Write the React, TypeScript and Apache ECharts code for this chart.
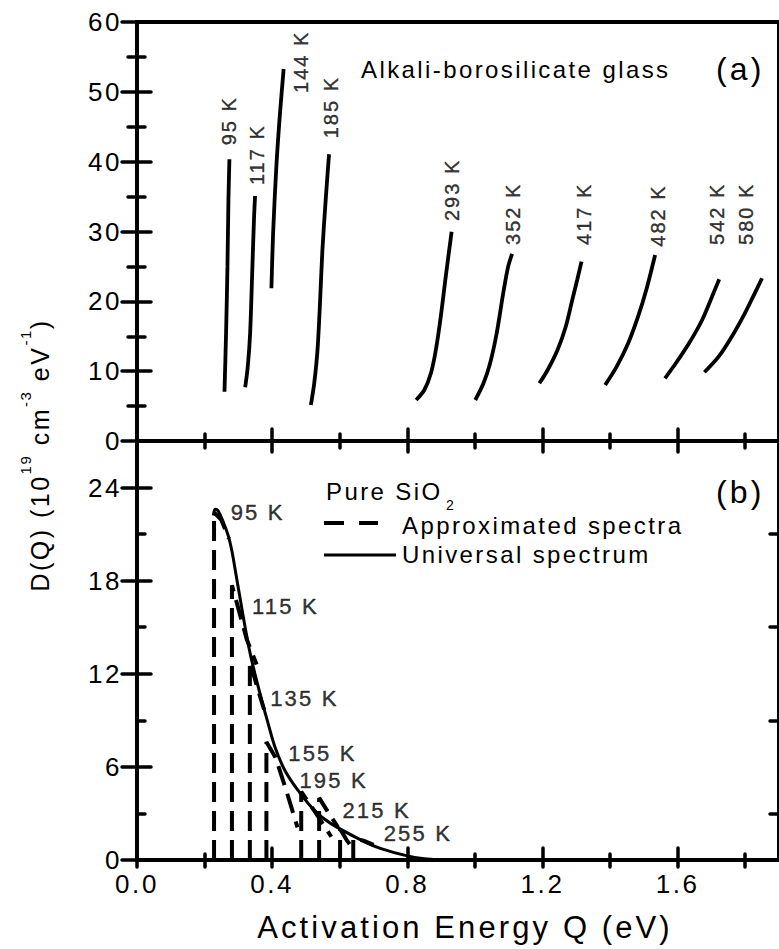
import React, { useEffect, useRef } from "react";
import * as echarts from "echarts";

const FONT = '"Liberation Sans", Arial, Helvetica, sans-serif';
const LS = 0.1; // letter spacing in em (applied through CSS to the SVG texts)

// ---------------- Panel (a): alkali-borosilicate glass ----------------
const glassTemperatures = ["95 K", "117 K", "144 K", "185 K", "293 K", "352 K", "417 K", "482 K", "542 K", "580 K"];
const glass95K = [[0.2589, 7.06], [0.2636, 15.42], [0.2677, 24.97], [0.2706, 34.51], [0.2735, 40.34]];
const glass117K = [[0.3202, 7.69], [0.3278, 10.64], [0.3348, 15.42], [0.3415, 24.96], [0.3465, 32.12], [0.3494, 35.08]];
const glass144K = [[0.3978, 21.87], [0.4028, 29.74], [0.4124, 39.28], [0.4224, 46.44], [0.434, 53.27]];
const glass185K = [[0.5146, 5.16], [0.5245, 8.26], [0.5342, 13.03], [0.542, 20.19], [0.5487, 27.35], [0.5584, 34.51], [0.5683, 41.06]];
const glass293K = [[0.8261, 5.87], [0.8503, 7.3], [0.8698, 9.69], [0.8844, 13.03], [0.899, 17.8], [0.9136, 23.5], [0.9311, 29.98]];
const glass352K = [[1.0012, 5.87], [1.0254, 8.26], [1.045, 11.13], [1.0645, 15.43], [1.0838, 21.15], [1.0984, 24.96], [1.1101, 26.78]];
const glass417K = [[1.1909, 8.26], [1.2153, 10.17], [1.2445, 13.03], [1.2688, 16.37], [1.2881, 20.19], [1.3027, 23.06], [1.3155, 25.68]];
const glass482K = [[1.3856, 8.02], [1.4195, 10.64], [1.4536, 13.99], [1.4828, 17.8], [1.5071, 21.62], [1.5334, 26.64]];
const glass542K = [[1.5625, 8.98], [1.5946, 11.13], [1.6337, 13.99], [1.6725, 17.33], [1.7017, 20.67], [1.723, 23.16]];
const glass580K = [[1.6792, 9.84], [1.7213, 12.07], [1.7601, 14.94], [1.7989, 18.29], [1.8281, 21.15], [1.8497, 23.3]];
const glassCurves = [glass95K, glass117K, glass144K, glass185K, glass293K, glass352K, glass417K, glass482K, glass542K, glass580K];

// ---------------- Panel (b): pure SiO2 ----------------
const universalSpectrum = [
  [0.226, 22.2], [0.231, 22.6], [0.24, 22.5], [0.255, 21.8], [0.27, 20.9], [0.281, 19.9], [0.293, 18.4],
  [0.306, 16.75], [0.32, 15.0], [0.335, 13.3], [0.349, 12.0], [0.369, 10.3], [0.388, 8.8], [0.408, 7.3],
  [0.437, 5.8], [0.476, 4.5], [0.525, 3.2], [0.573, 2.36], [0.671, 1.2], [0.72, 0.75], [0.797, 0.28],
  [0.85, 0.08], [0.9, 0.0],
];
const approxTemperatures = ["95 K", "115 K", "135 K", "155 K", "195 K", "215 K", "235 K", "255 K"];
const approx95K = [[0.228, 0], [0.228, 22.4], [0.25, 21.9], [0.272, 20.7]];
const approx115K = [[0.281, 0], [0.281, 17.7], [0.3, 16.2], [0.325, 14.2], [0.354, 12.6]];
const approx135K = [[0.334, 0], [0.334, 12.8], [0.355, 11.2], [0.376, 9.7]];
const approx155K = [[0.383, 0], [0.383, 7.6], [0.41, 6.6], [0.44, 4.6], [0.475, 2.1]];
const approx195K = [[0.486, 0], [0.486, 4.4], [0.53, 3.0], [0.575, 1.5]];
const approx215K = [[0.539, 0], [0.539, 4.0], [0.565, 3.1], [0.595, 2.1]];
const approx235K = [[0.601, 0], [0.601, 2.0], [0.62, 1.3], [0.64, 0.7]];
const approx255K = [[0.64, 0], [0.64, 1.4], [0.67, 1.25], [0.7, 0.97]];
const approxSpectra = [approx95K, approx115K, approx135K, approx155K, approx195K, approx215K, approx235K, approx255K];
const labelledApprox = ["95 K", "115 K", "135 K", "155 K", "195 K", "215 K", "255 K"];

// ---------------- Axes / tick labels ----------------
const X_MIN = 0;
const X_MAX = 1.9;
const xMajorTicks = [0, 0.4, 0.8, 1.2, 1.6];
const xMinorTicks = [0.2, 0.6, 1.0, 1.4, 1.8];
const yTopMax = 60;
const yTopMajorTicks = [0, 10, 20, 30, 40, 50, 60];
const yTopMinorTicks = [5, 15, 25, 35, 45, 55];
const yBottomMax = 27;
const yBottomMajorTicks = [0, 6, 12, 18, 24];
const yBottomMinorTicks = [3, 9, 15, 21];

// ---------------- Styling (screen pixel offsets of annotations: [right, down]) ----------------
const topLabelOffsets: Record<string, number[]> = {
  "95 K": [-0.7, -14], "117 K": [2.3, -11], "144 K": [17.3, 24], "185 K": [1.6, -16], "293 K": [0.7, -10.6],
  "352 K": [0.7, -9], "417 K": [2.3, -16.7], "482 K": [2.7, -8.3], "542 K": [-2.3, -34.3], "580 K": [-15.7, -33.3],
};
const bottomLabelOffsets: Record<string, number[]> = {
  "95 K": [16.6, 0.6], "115 K": [20, 20.7], "135 K": [20.3, 36.7], "155 K": [21.8, 11],
  "195 K": [-1.8, -11.7], "215 K": [23.3, 12.1], "255 K": [30.4, -5],
};

function textWidth(s: string, size: number): number {
  const ctx = document.createElement("canvas").getContext("2d")!;
  ctx.font = `${size}px ${FONT}`;
  return ctx.measureText(s).width + s.length * size * LS;
}

const TICK_STYLE = { color: "#000", width: 3.5, cap: "round" as const };

function tickAxis(gridIndex: number, position: string, min: number, max: number, values: number[], length: number, extra: any = {}) {
  return {
    type: "value",
    gridIndex,
    position,
    min,
    max,
    axisLine: { show: false },
    splitLine: { show: false },
    axisTick: { show: true, inside: true, length, customValues: values, lineStyle: TICK_STYLE },
    axisLabel: { show: false },
    ...extra,
  };
}

function labelStyle(size: number) {
  return { fontSize: size, fontFamily: FONT, color: "#000" };
}

function buildOption() {
  // y-axis title as composite text (with superscripts), rotated
  const main = 25;
  const sup = 15;
  const supDy = -15;
  const pieces: { t: string; size: number; dy: number; gap?: number }[] = [
    { t: "D(Q) (10", size: main, dy: 0 },
    { t: "19", size: sup, dy: supDy, gap: textWidth(" ", main) },
    { t: "cm", size: main, dy: 0 },
    { t: "-3", size: sup, dy: supDy, gap: textWidth(" ", main) },
    { t: "eV", size: main, dy: 0 },
    { t: "-1", size: sup, dy: supDy },
    { t: ")", size: main, dy: 0 },
  ];
  let cx = 0;
  const titleChildren: any[] = [];
  pieces.forEach((p) => {
    titleChildren.push({
      type: "text",
      x: cx,
      y: p.dy,
      style: { text: p.t, fontSize: p.size, fontFamily: FONT, fill: "#000", verticalAlign: "middle", textVerticalAlign: "middle" },
    });
    cx += textWidth(p.t, p.size) + (p.gap || 0);
  });
  const titleLen = cx;

  const textEl = (text: string, x: number, y: number, size: number) => ({
    type: "text",
    x,
    y,
    style: { text, fontSize: size, fontFamily: FONT, fill: "#000", verticalAlign: "middle", textVerticalAlign: "middle" },
  });

  const glassSeries = glassCurves.map((data, i) => ({
    type: "line",
    name: glassTemperatures[i],
    xAxisIndex: 0,
    yAxisIndex: 0,
    data,
    showSymbol: false,
    smooth: 0.3,
    silent: true,
    lineStyle: { color: "#000", width: 3.8 },
  }));

  const annotationText = { textBorderColor: "#000", textBorderWidth: 0.4 };

  // rotated labels: offset is applied in the label's rotated frame -> [up, right]
  const glassLabels = {
    type: "scatter",
    xAxisIndex: 0,
    yAxisIndex: 0,
    silent: true,
    symbolSize: 1,
    itemStyle: { color: "rgba(0,0,0,0)" },
    label: {
      show: true,
      position: [0.5, 0.5],
      rotate: 90,
      align: "left",
      verticalAlign: "middle",
      formatter: (p: any) => p.name,
      ...labelStyle(20),
      ...annotationText,
    },
    data: glassCurves.map((d, i) => {
      const o = topLabelOffsets[glassTemperatures[i]];
      return {
        name: glassTemperatures[i],
        value: d[d.length - 1],
        label: { offset: [-o[1], o[0]] },
      };
    }),
  };

  const approxSeries = approxSpectra.map((data, i) => ({
    type: "line",
    name: approxTemperatures[i],
    xAxisIndex: 4,
    yAxisIndex: 4,
    data,
    showSymbol: false,
    silent: true,
    lineStyle: { color: "#000", width: 4, type: [20, 9] },
  }));

  const universalSeries = {
    type: "line",
    name: "Universal spectrum",
    xAxisIndex: 4,
    yAxisIndex: 4,
    data: universalSpectrum,
    showSymbol: false,
    smooth: 0.3,
    silent: true,
    lineStyle: { color: "#000", width: 3 },
  };

  const approxLabels = {
    type: "scatter",
    xAxisIndex: 4,
    yAxisIndex: 4,
    silent: true,
    symbolSize: 1,
    itemStyle: { color: "rgba(0,0,0,0)" },
    label: {
      show: true,
      position: [0.5, 0.5],
      align: "left",
      verticalAlign: "middle",
      formatter: (p: any) => p.name,
      ...labelStyle(22),
      ...annotationText,
    },
    data: labelledApprox.map((name) => {
      const d = approxSpectra[approxTemperatures.indexOf(name)];
      return { name, value: d[1], label: { offset: bottomLabelOffsets[name] } };
    }),
  };

  const xLabel = {
    show: true,
    customValues: xMajorTicks,
    margin: 11,
    formatter: (v: number) => v.toFixed(1),
    ...labelStyle(26),
  };
  const yLabel = (vals: number[]) => ({
    show: true,
    customValues: vals,
    margin: 15,
    formatter: (v: number) => String(v),
    ...labelStyle(26),
  });

  return {
    animation: false,
    backgroundColor: "#fff",
    grid: [
      { left: 137, top: 22, right: -9, height: 419, show: true, borderColor: "#000", borderWidth: 4, backgroundColor: "transparent" },
      { left: 137, top: 441, right: -9, height: 419, show: true, borderColor: "#000", borderWidth: 4, backgroundColor: "transparent" },
    ],
    xAxis: [
      tickAxis(0, "bottom", X_MIN, X_MAX, xMajorTicks, 12),
      tickAxis(0, "bottom", X_MIN, X_MAX, xMinorTicks, 7),
      tickAxis(0, "top", X_MIN, X_MAX, xMajorTicks, 11),
      tickAxis(0, "top", X_MIN, X_MAX, xMinorTicks, 7),
      tickAxis(1, "bottom", X_MIN, X_MAX, xMajorTicks, 12, {
        axisLabel: xLabel,
        name: "Activation Energy Q (eV)",
        nameLocation: "middle",
        nameGap: 52,
        nameTextStyle: { ...labelStyle(31), padding: [0, 0, 0, 14] },
      }),
      tickAxis(1, "bottom", X_MIN, X_MAX, xMinorTicks, 6),
      tickAxis(1, "top", X_MIN, X_MAX, [...xMajorTicks, ...xMinorTicks], 7),
    ],
    yAxis: [
      tickAxis(0, "left", 0, yTopMax, yTopMajorTicks, 14, { axisLabel: yLabel(yTopMajorTicks) }),
      tickAxis(0, "left", 0, yTopMax, yTopMinorTicks, 8),
      tickAxis(0, "right", 0, yTopMax, yTopMajorTicks, 15),
      tickAxis(0, "right", 0, yTopMax, yTopMinorTicks, 9),
      tickAxis(1, "left", 0, yBottomMax, yBottomMajorTicks, 14, { axisLabel: yLabel(yBottomMajorTicks) }),
      tickAxis(1, "left", 0, yBottomMax, yBottomMinorTicks, 8),
      tickAxis(1, "right", 0, yBottomMax, yBottomMajorTicks, 15),
      tickAxis(1, "right", 0, yBottomMax, yBottomMinorTicks, 9),
    ],
    series: [...glassSeries, glassLabels, ...approxSeries, universalSeries, approxLabels],
    graphic: [
      { type: "group", x: 40, y: 455 + titleLen / 2, rotation: Math.PI / 2, children: titleChildren },
      textEl("Alkali-borosilicate glass", 361, 69, 24),
      textEl("(a)", 716, 69, 32),
      textEl("(b)", 716, 492, 32),
      textEl("Pure SiO", 326, 491, 24),
      textEl("2", 446, 505, 14),
      { type: "line", shape: { x1: 324, y1: 523, x2: 378, y2: 523 }, style: { stroke: "#000", lineWidth: 4, lineDash: [20, 15] } },
      { type: "line", shape: { x1: 324, y1: 555, x2: 396, y2: 555 }, style: { stroke: "#000", lineWidth: 3 } },
      textEl("Approximated spectra", 402, 525, 24),
      textEl("Universal spectrum", 402, 554, 24),
    ],
  };
}

export default function App() {
  const ref = useRef<HTMLDivElement>(null);
  useEffect(() => {
    const chart = echarts.init(ref.current!, null, { renderer: "svg" });
    chart.setOption(buildOption() as any);
    return () => chart.dispose();
  }, []);
  return (
    <>
      <style>{`#dq-chart text { letter-spacing: ${LS}em; }`}</style>
      <div
        id="dq-chart"
        ref={ref}
        style={{ position: "absolute", left: 0, top: 0, width: 779, height: 949, background: "#fff" }}
      />
    </>
  );
}
